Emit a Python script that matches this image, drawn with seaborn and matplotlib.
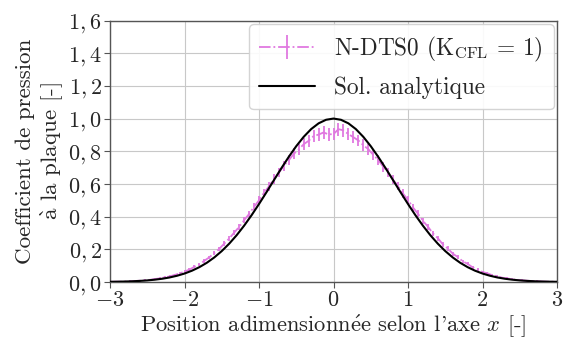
import matplotlib
matplotlib.use("Agg")
import matplotlib.pyplot as plt
import seaborn as sns
import numpy as np
import pandas as pd

# ---- data -------------------------------------------------------------
# numerical solution N-DTS0 (K_CFL = 1), 91 mesh points on [-3, 3]
ndts0_cp = [
    0.001, 0.002, 0.002, 0.003, 0.004, 0.006, 0.008, 0.011, 0.013, 0.018,
    0.022, 0.028, 0.034, 0.043, 0.052, 0.064, 0.076, 0.093, 0.109, 0.130,
    0.151, 0.177, 0.203, 0.235, 0.266, 0.302, 0.337, 0.378, 0.416, 0.460,
    0.500, 0.545, 0.585, 0.630, 0.669, 0.712, 0.745, 0.784, 0.811, 0.843,
    0.864, 0.893, 0.902, 0.915, 0.903,
    0.905,
    0.935, 0.928, 0.905, 0.886, 0.866, 0.837, 0.813, 0.778, 0.747, 0.706,
    0.671, 0.625, 0.587, 0.541, 0.502, 0.456, 0.418, 0.374, 0.339, 0.298,
    0.268, 0.231, 0.205, 0.174, 0.153, 0.127, 0.111, 0.090, 0.078, 0.061,
    0.053, 0.041, 0.035, 0.026, 0.022, 0.016, 0.014, 0.010, 0.008, 0.006,
    0.004, 0.003, 0.002, 0.002, 0.001,
]
ndts0_err = [
    0.006, 0.006, 0.006, 0.006, 0.006, 0.006, 0.006, 0.006, 0.006, 0.007,
    0.007, 0.007, 0.007, 0.008, 0.008, 0.008, 0.009, 0.009, 0.010, 0.011,
    0.011, 0.012, 0.013, 0.014, 0.015, 0.017, 0.018, 0.019, 0.021, 0.022,
    0.024, 0.025, 0.026, 0.028, 0.029, 0.031, 0.032, 0.033, 0.034, 0.036,
    0.036, 0.037, 0.038, 0.038, 0.038,
    0.038,
    0.039, 0.038, 0.038, 0.037, 0.036, 0.035, 0.034, 0.033, 0.032, 0.031,
    0.029, 0.028, 0.026, 0.025, 0.024, 0.022, 0.021, 0.019, 0.018, 0.016,
    0.015, 0.014, 0.013, 0.012, 0.011, 0.010, 0.010, 0.009, 0.009, 0.008,
    0.008, 0.007, 0.007, 0.007, 0.007, 0.006, 0.006, 0.006, 0.006, 0.006,
    0.006, 0.006, 0.006, 0.006, 0.006,
]
ndts0_x = np.linspace(-3, 3, len(ndts0_cp))

# analytical solution, 61 points on [-3, 3] (symmetric profile, x >= 0 half)
analytic_half = [
    1.0, 0.9926, 0.9708, 0.9356, 0.8883, 0.8311, 0.7661, 0.6959, 0.6228,
    0.5491, 0.4771, 0.4084, 0.3445, 0.2863, 0.2345, 0.1892, 0.1504, 0.1178,
    0.0909, 0.0691, 0.0518, 0.0383, 0.0278, 0.0199, 0.0141, 0.0098, 0.0067,
    0.0045, 0.0030, 0.0020, 0.0013,
]
analytic_cp = analytic_half[:0:-1] + analytic_half
analytic_x = np.linspace(-3, 3, len(analytic_cp))

x_ticks = [-3, -2, -1, 0, 1, 2, 3]
x_ticklabels = [r"$-3$", r"$-2$", r"$-1$", r"$0$", r"$1$", r"$2$", r"$3$"]
y_ticks = [0.0, 0.2, 0.4, 0.6, 0.8, 1.0, 1.2, 1.4, 1.6]
y_ticklabels = [r"$0,0$", r"$0,2$", r"$0,4$", r"$0,6$", r"$0,8$",
                r"$1,0$", r"$1,2$", r"$1,4$", r"$1,6$"]

label_num = r"N-DTS0 ($\mathrm{K}_{\mathrm{CFL}}$ = 1)"
label_ana = "Sol. analytique"
xlabel = r"Position adimensionn$\acute{\mathrm{e}}$e selon l'axe $x$ [-]"
ylabel = "Coefficient de pression\n" + r"$\grave{\mathrm{a}}$ la plaque [-]"

# ---- style ------------------------------------------------------------
sns.set_theme(style="whitegrid")
plt.rcParams["font.family"] = ["cmr10", "DejaVu Serif"]
plt.rcParams["mathtext.fontset"] = "cm"
plt.rcParams["axes.unicode_minus"] = False
plt.rcParams["axes.formatter.use_mathtext"] = True

fs = 16
fig = plt.figure(figsize=(5.63, 3.38), dpi=100)
ax = fig.add_axes([110 / 563, 1 - 282 / 338, 447 / 563, 261.5 / 338])

magenta = "#e078e0"
eb = ax.errorbar(ndts0_x, ndts0_cp, yerr=ndts0_err, color=magenta, ls="-.",
                 lw=1.3, elinewidth=1.3, capsize=0, label=label_num, zorder=2)

df_ana = pd.DataFrame({"x": analytic_x, "cp": analytic_cp})
sns.lineplot(data=df_ana, x="x", y="cp", color="black", lw=1.5,
             label=label_ana, ax=ax, zorder=3)

ax.set_xlim(-3, 3)
ax.set_ylim(0, 1.6)
ax.set_xticks(x_ticks, labels=x_ticklabels, fontsize=fs)
ax.set_yticks(y_ticks, labels=y_ticklabels, fontsize=fs)
ax.set_xlabel(xlabel, fontsize=16.2, labelpad=2)
ax.set_ylabel(ylabel, fontsize=16.6, labelpad=2)

ax.grid(True, color="#c8c8c8", lw=0.8)
for s in ax.spines.values():
    s.set_visible(True)
    s.set_color("#555555")
    s.set_linewidth(1.0)
ax.tick_params(axis="both", which="major", length=4, width=0.8,
               color="#555555", direction="out", pad=2,
               bottom=True, left=True)

handles, labels = ax.get_legend_handles_labels()
order = [labels.index(label_num), labels.index(label_ana)]
ax.legend([handles[i] for i in order], [labels[i] for i in order],
          loc="upper right", fontsize=16.8, frameon=True, fancybox=True,
          handlelength=2.4, borderaxespad=0.15, labelspacing=0.55,
          borderpad=0.45, edgecolor="#d0d0d0", framealpha=0.9)

fig.savefig("out.png", dpi=100)
